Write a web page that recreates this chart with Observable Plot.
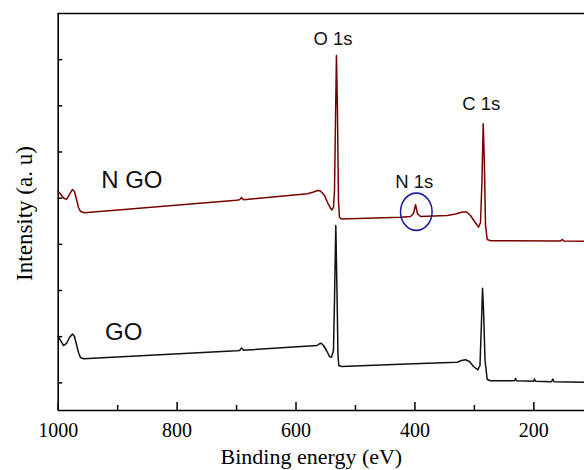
<!DOCTYPE html>
<html><head><meta charset="utf-8">
<script src="https://cdn.jsdelivr.net/npm/d3@7"></script>
<script src="https://cdn.jsdelivr.net/npm/@observablehq/plot@0.6"></script>
<style>body{margin:0;background:#fff} svg{display:block}</style>
</head><body><div id="chart"></div>
<script>
// N GO spectrum (binding energy eV, intensity a.u.)
const ngoEnergy = [1000, 996.1, 991.1, 986.0, 981.0, 976.0, 972.6, 969.2, 965.9, 962.5, 955.8,
  700.3, 695.1, 691.7, 688.3, 683.3, 580.7, 570.6, 563.9, 558.8, 552.1, 545.4, 540.3, 537.0, 535.3,
  533.6, 532.0, 530.3, 528.6, 526.9, 523.5, 424.3, 407.4, 402.4, 399.0, 395.7, 390.6, 345.7, 331.7,
  320.0, 313.2, 306.5, 299.8, 293.1, 289.7, 287.2, 285.2, 283.3, 281.3, 278.4, 272.9, 155.1, 152.3, 149.3, 114.8];
const ngoIntensity = [4.145, 4.091, 4.004, 3.972, 4.080, 4.189, 4.145, 3.972, 3.798, 3.712, 3.684,
  3.955, 3.963, 4.015, 3.967, 3.972, 4.095, 4.134, 4.167, 4.156, 4.058, 3.863, 3.744, 3.798, 4.167,
  5.684, 7.092, 5.900, 3.950, 3.582, 3.549, 3.588, 3.603, 3.668, 3.857, 3.668, 3.603, 3.625, 3.658,
  3.701, 3.701, 3.625, 3.495, 3.372, 3.473, 4.384, 5.612, 4.817, 3.408, 3.105, 3.079, 3.073, 3.105, 3.073, 3.068];
// GO spectrum
const goEnergy = [1000, 996.1, 991.1, 986.0, 981.0, 976.0, 972.6, 969.2, 965.9, 962.5, 957.4,
  700.3, 695.1, 691.7, 688.3, 683.3, 564.4, 561.3, 557.6, 553.8, 548.7, 543.7, 540.3, 537.0, 535.3,
  533.1, 531.1, 529.4, 528.0, 523.5, 402.4, 328.9, 321.7, 315.0, 308.2, 301.5, 294.2, 290.6, 288.0,
  286.3, 284.6, 282.1, 278.4, 272.9, 232.5, 230.8, 229.1, 200.6, 198.9, 197.2, 170.3, 168.1, 166.1, 114.8];
const goIntensity = [1.003, 0.917, 0.808, 0.852, 0.982, 1.057, 1.003, 0.830, 0.657, 0.548, 0.520,
  0.693, 0.700, 0.754, 0.704, 0.709, 0.808, 0.841, 0.858, 0.808, 0.700, 0.570, 0.555, 0.700, 1.783,
  3.408, 2.000, 0.592, 0.375, 0.353, 0.412, 0.446, 0.483, 0.498, 0.462, 0.353, 0.282, 0.375, 1.350,
  2.050, 1.567, 0.483, 0.072, 0.046, 0.043, 0.093, 0.043, 0.033, 0.082, 0.033, 0.024, 0.082, 0.022, 0.013];

const xMajorTicks = [1000, 800, 600, 400, 200];
const xMinorTicks = [900, 700, 500, 300];
const yTicks = [0, 1, 2, 3, 4, 5, 6, 7];
const peakLabels = ["O 1s", "N 1s", "C 1s"];
const sampleLabels = ["N GO", "GO"];
const xTitle = "Binding energy (eV)";
const yTitle = "Intensity (a. u)";

const ngo = ngoEnergy.map((e, i) => ({e, v: ngoIntensity[i]}));
const go = goEnergy.map((e, i) => ({e, v: goIntensity[i]}));

const W = 584, H = 470, mL = 57.7, mT = 13, mB = 60, mR = 0;
const frameW = W - mL - mR, frameH = H - mT - mB;
const serif = "Liberation Serif";
const sans = "Liberation Sans";

const chart = Plot.plot({
  width: W, height: H,
  marginTop: mT, marginBottom: mB, marginLeft: mL, marginRight: mR,
  style: {background: "white", fontFamily: serif, color: "black"},
  x: {domain: [1000, 114.8], axis: null},
  y: {domain: [-0.6, 8], axis: null},
  marks: [
    Plot.text(xMajorTicks, {x: d => d, frameAnchor: "bottom", lineAnchor: "middle", textAnchor: "middle",
      dy: 20, text: d => String(d), fontSize: 20, fontFamily: serif, fill: "black"}),
    Plot.tickX(xMajorTicks, {x: d => d, insetTop: frameH - 8, strokeWidth: 1.5}),
    Plot.tickX(xMinorTicks, {x: d => d, insetTop: frameH - 5, strokeWidth: 1.5}),
    Plot.tickY(yTicks, {y: d => d, insetRight: frameW - 4.5, strokeWidth: 1.5}),
    Plot.ruleY([-0.6], {strokeWidth: 1.6}),
    Plot.ruleY([8], {strokeWidth: 1.6}),
    Plot.ruleX([1000], {strokeWidth: 1.6}),
    Plot.line(go, {x: "e", y: "v", stroke: "#111", strokeWidth: 1.5}),
    Plot.line(ngo, {x: "e", y: "v", stroke: "#7a0000", strokeWidth: 1.5}),
    Plot.text(peakLabels, {x: [537.8, 401.0, 288.4], y: [7.45, 4.35, 6.03], fontSize: 18.5,
      fontFamily: sans, fill: "#111"}),
    Plot.text(sampleLabels, {x: [876.2, 889.7], y: [4.394, 1.096], fontSize: 24,
      fontFamily: sans, fill: "#111"}),
    Plot.dot([{x: 397.7, y: 3.705}], {x: "x", y: "y", r: 15.8, stroke: "#1c1c96", strokeWidth: 1.5, fill: "none"}),
    Plot.text([xTitle], {frameAnchor: "bottom", textAnchor: "middle", lineAnchor: "middle", dx: -10, dy: 46.5, fontSize: 22, fontFamily: serif, fill: "black"}),
    Plot.text([yTitle], {frameAnchor: "left", textAnchor: "middle", lineAnchor: "middle", dx: -33.7, dy: 1.5, rotate: -90, fontSize: 23, fontFamily: serif, fill: "black"})
  ]
});
d3.select(chart).selectAll("circle").each(function() {
  const c = d3.select(this);
  const cx = +c.attr("cx") || 0, cy = +c.attr("cy") || 0;
  c.attr("transform", `translate(${cx},${cy}) scale(1,${18.7/15.8}) translate(${-cx},${-cy})`);
});
document.getElementById("chart").appendChild(chart);
</script>
</body></html>
